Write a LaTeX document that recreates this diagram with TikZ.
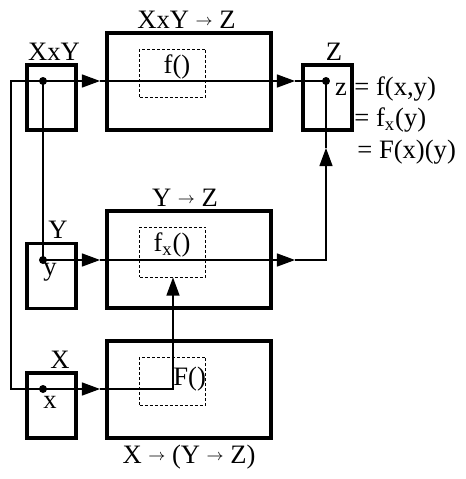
\documentclass[tikz,border=0pt]{standalone}
\usepackage{fontspec}
\setmainfont{Liberation Serif}
\usetikzlibrary{arrows.meta}
\newcommand{\tofn}{\raisebox{1.2pt}{\fontsize{8.5}{8.5}\selectfont$\rightarrow$}}
\begin{document}
\begin{tikzpicture}[x=0.5pt,y=-0.5pt,
    every node/.style={font=\fontsize{13.3}{16}\selectfont,inner sep=0pt},
    var/.style={draw,line width=1.6pt,minimum width=24.5pt,minimum height=32.5pt},
    func/.style={draw,line width=1.6pt,minimum width=82pt,minimum height=48.5pt},
    body/.style={draw,line width=0.5pt,dash pattern=on 1.5pt off 1pt,minimum width=33pt,minimum height=24pt},
    dot/.style={circle,fill,minimum size=4pt},
    wire/.style={line width=0.6pt},
    tip/.style={wire,-{Triangle[length=9pt,width=6.5pt]}}]
  \useasboundingbox (0,0) rectangle (466,479);
  % boxes
  \node[var] (XY) at (51.5,97.5) {};
  \node[var] (Y) at (51.5,276) {};
  \node[var] (X) at (51.5,405.5) {};
  \node[var] (Z) at (327.5,97.5) {};
  \node[func] (f) at (189,81.5) {};
  \node[func] (fx) at (189,259.5) {};
  \node[func] (F) at (189,389.5) {};
  \node[body] (fbody) at (173,73) {};
  \node[body,minimum height=25pt] (fxbody) at (173,252) {};
  \node[body] (Fbody) at (173,381) {};
  % labels
  \node[anchor=base] (lXY) at (54,60) {XxY};
  \node[anchor=base] (lY) at (58,238) {Y};
  \node[anchor=base] (lX) at (60,368) {X};
  \node[anchor=base] (lZ) at (334,60) {Z};
  \node[anchor=base] (lf) at (186.5,28) {XxY \tofn{} Z};
  \node[anchor=base] (lfx) at (185,206) {Y \tofn{} Z};
  \node[anchor=base] (lF) at (189,463) {X \tofn{} (Y \tofn{} Z)};
  \node[anchor=base] (tf) at (177,73) {f()};
  \node[anchor=base] (tfx) at (172,251) {f\textsubscript{x}()};
  \node[anchor=base west] (tF) at (173,385) {F()};
  \node[anchor=base] (ty) at (50,275) {y};
  \node[anchor=base] (tx) at (50,408) {x};
  \node[anchor=base] (tz) at (341,95) {z};
  \node[anchor=base west] (eq1) at (354,95) {= f(x,y)};
  \node[anchor=base west] (eq2) at (354,126) {= f\textsubscript{x}(y)};
  \node[anchor=base west] (eq3) at (357,158) {= F(x)(y)};
  % dots
  \node[dot] (xy) at (43,81) {};
  \node[dot] (y) at (43,260) {};
  \node[dot] (x) at (43,389) {};
  \node[dot] (z) at (326,81) {};
  \coordinate (nw) at (11,81);
  \coordinate (sw) at (11,389);
  \coordinate (t1) at (100,81);
  \coordinate (t2) at (295,81);
  \coordinate (t3) at (100,260);
  \coordinate (t4) at (295,260);
  \coordinate (ne) at (326,260);
  \coordinate (t5) at (326,148);
  \coordinate (t6) at (100,389);
  \coordinate (up) at (173,389);
  % wires
  \draw[tip] (xy.center) -- (t1);
  \draw[tip] (t1) -- (t2);
  \draw[wire] (t2) -- (z.center);
  \draw[wire] (xy.center) -- (y.center);
  \draw[wire] (xy.center) -- (nw) -- (sw) -- (x.center);
  \draw[tip] (y.center) -- (t3);
  \draw[tip] (t3) -- (t4);
  \draw[tip] (t4) -- (ne) -- (t5);
  \draw[wire] (t5) -- (z.center);
  \draw[tip] (x.center) -- (t6);
  \draw[tip] (t6) -- (up) -- (fxbody.south);
\end{tikzpicture}
\end{document}
